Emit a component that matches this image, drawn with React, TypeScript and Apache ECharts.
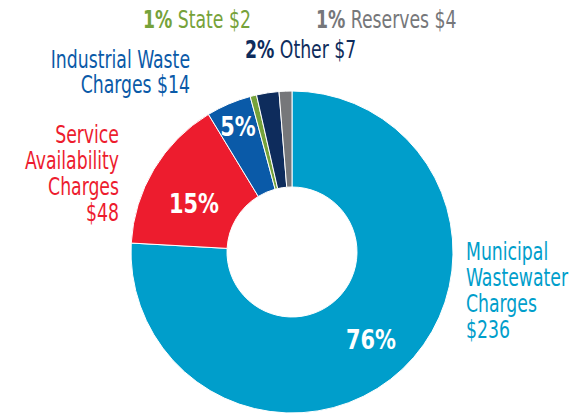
import React, { useEffect, useRef } from "react";
import * as echarts from "echarts";

const names = ["Municipal Wastewater Charges", "Service Availability Charges", "Industrial Waste Charges", "State", "Other", "Reserves"];
const values = [236, 48, 14, 2, 7, 4];
const colors = ["#009ecb", "#ed1c2e", "#0a5aa8", "#76a23a", "#0e2c5c", "#76777a"];
// text lines for the outside labels (last line gets the dollar value)
const labelLines = [
  ["Municipal", "Wastewater", "Charges", "$"],
  ["Service", "Availability", "Charges", "$"],
  ["Industrial Waste", "Charges $"],
  ["State $"],
  ["Other $"],
  ["Reserves $"],
];

const FONT = "'Liberation Sans Narrow', 'DejaVu Sans Condensed', 'Roboto', sans-serif";
const SX = 0.8;

export default function App() {
  const ref = useRef<HTMLDivElement>(null);
  useEffect(() => {
    document.body.style.margin = "0";
    const chart = echarts.init(ref.current!, null, { renderer: "svg" });
    const total = values.reduce((a, b) => a + b, 0);
    const pct = values.map((v) => Math.round((v / total) * 100));

    const lbl = (i: number) => {
      const lines = labelLines[i].slice();
      lines[lines.length - 1] = lines[lines.length - 1] + values[i];
      return lines.join("\n");
    };

    // layout for outside labels: [x, y, align]
    const layout: [number, number, string][] = [
      [466, 291, "left"],
      [119, 174, "right"],
      [190, 72, "right"],
      [143, 20, "left"],
      [245, 50, "left"],
      [316, 20, "left"],
    ];

    const graphics: any[] = layout.map((p, i) => {
      const small = i >= 3;
      return {
        type: "text",
        x: p[0],
        y: p[1],
        scaleX: SX,
        style: small
          ? {
              text: `{b|${pct[i]}%}{n| ${lbl(i)}}`,
              rich: {
                b: { fontFamily: FONT, fontSize: 24, fontWeight: "bold", fill: colors[i] },
                n: { fontFamily: FONT, fontSize: 24, fill: colors[i] },
              },
              align: p[2],
              verticalAlign: "middle",
            }
          : {
              text: lbl(i),
              fontFamily: FONT,
              fontSize: 24,
              lineHeight: i === 2 ? 25 : 26,
              fill: colors[i],
              align: p[2],
              verticalAlign: "middle",
            },
      };
    });

    // inner percentage labels: [x, y]
    const pctPos: [number, number][] = [
      [371, 340],
      [194, 204],
      [238, 127],
    ];
    pctPos.forEach((p, i) => {
      graphics.push({
        type: "text",
        x: p[0],
        y: p[1],
        scaleX: 0.86,
        z: 100,
        style: {
          text: `${pct[i]}%`,
          fontFamily: FONT,
          fontSize: 27,
          fontWeight: "bold",
          fill: "#ffffff",
          align: "center",
          verticalAlign: "middle",
        },
      });
    });

    chart.setOption({
      animation: false,
      graphic: graphics,
      series: [
        {
          type: "pie",
          center: [292, 252],
          radius: [65, 161],
          startAngle: 90,
          clockwise: true,
          avoidLabelOverlap: false,
          label: { show: false },
          labelLine: { show: false },
          itemStyle: { borderColor: "#ffffff", borderWidth: 1 },
          emphasis: { disabled: true },
          data: values.map((v, i) => ({
            name: names[i],
            value: v,
            itemStyle: { color: colors[i] },
          })),
        },
      ],
    });
    return () => chart.dispose();
  }, []);
  return <div ref={ref} style={{ width: 586, height: 413 }} />;
}
